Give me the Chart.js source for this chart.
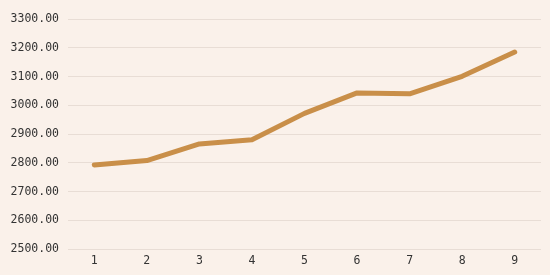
<!DOCTYPE html>
<html>
<head>
<meta charset="utf-8">
<script src="https://cdn.jsdelivr.net/npm/chart.js@4/dist/chart.umd.min.js"></script>
<style>
  html, body { margin: 0; padding: 0; background: #faf1ea; }
  #wrap { width: 550px; height: 275px; }
</style>
</head>
<body>
<div id="wrap"><canvas id="grafico" width="550" height="275"></canvas></div>
<script>
const categorias = ['1', '2', '3', '4', '5', '6', '7', '8', '9'];
const valores = [2793, 2808, 2866, 2880, 2972, 3043, 3040, 3101, 3185];
const yMin = 2500;
const yMax = 3300;
const yPaso = 100;

document.addEventListener('DOMContentLoaded', () => {
    const ctx = document.getElementById('grafico').getContext('2d');
    new Chart(ctx, {
        type: 'line',
        data: {
            labels: categorias,
            datasets: [{
                data: valores,
                borderColor: '#c98f49',
                borderWidth: 5,
                pointRadius: 0,
                tension: 0,
                borderCapStyle: 'round',
                borderJoinStyle: 'round',
                fill: false
            }]
        },
        options: {
            responsive: false,
            animation: false,
            layout: { padding: { left: 0, right: 9, top: 19, bottom: 2 } },
            plugins: {
                legend: { display: false },
                tooltip: { enabled: false }
            },
            scales: {
                x: {
                    offset: true,
                    grid: { display: false, drawTicks: false },
                    border: { display: false },
                    ticks: {
                        color: '#333',
                        padding: 5,
                        maxRotation: 0,
                        font: { family: 'DejaVu Sans Mono', size: 11.5 }
                    }
                },
                y: {
                    min: yMin,
                    max: yMax,
                    afterFit: (axis) => { axis.width = 68; },
                    grid: { color: '#e8ddd5', lineWidth: 1, drawTicks: false },
                    border: { display: false },
                    ticks: {
                        stepSize: yPaso,
                        color: '#333',
                        padding: 9,
                        font: { family: 'DejaVu Sans Mono', size: 11.5 },
                        callback: (v) => Number(v).toFixed(2)
                    }
                }
            }
        }
    });
});
</script>
</body>
</html>
